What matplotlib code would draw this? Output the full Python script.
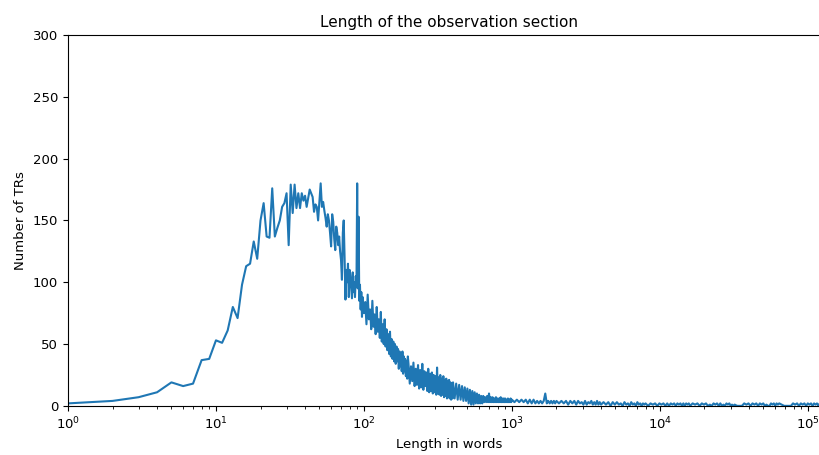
"""
Length of the observation section - number of TRs per length in words
"""
import matplotlib
matplotlib.use('Agg')
import matplotlib.pyplot as plt

# lengths 1..100, one value per length
head_len = list(range(1, 101))
head_count = [2, 4, 7, 11, 19, 16, 18, 37, 38, 53,
              51, 61, 80, 71, 98, 113, 115, 133, 119, 150,
              164, 137, 136, 176, 137, 144, 150, 161, 164, 172,
              130, 179, 156, 179, 160, 172, 160, 172, 166, 170,
              161, 168, 175, 172, 169, 157, 163, 161, 150, 165,
              180, 161, 165, 158, 152, 145, 155, 150, 140, 129,
              155, 149, 135, 126, 145, 140, 130, 137, 125, 118,
              102, 140, 150, 120, 86, 110, 100, 115, 88, 110,
              104, 95, 87, 108, 92, 100, 88, 105, 96, 180,
              95, 153, 85, 98, 78, 92, 72, 88, 80, 75]

# 100..1000
mid_len = list(range(102, 200, 2)) + list(range(200, 400, 4)) + list(range(400, 1000, 10))
mid_count = [84, 66, 90, 70, 78, 62, 85, 64, 74, 58,
             80, 60, 70, 55, 76, 52, 66, 50, 70, 48,
             62, 45, 58, 42, 60, 40, 54, 38, 52, 36,
             50, 34, 48, 36, 46, 30, 44, 32, 42, 28,
             44, 26, 40, 28, 38, 24, 36, 22, 40,
             # 200 - 396
             34, 18, 32, 20, 35, 16, 30, 17, 33, 14,
             29, 15, 34, 13, 28, 16, 27, 12, 30, 11,
             26, 12, 27, 10, 25, 11, 24, 9, 31, 10,
             23, 9, 25, 8, 22, 9, 24, 7, 21, 8,
             22, 6, 20, 7, 21, 6, 19, 5, 18, 6,
             # 400 - 990
             19, 6, 18, 5, 17, 5, 16, 4, 15, 4,
             14, 2, 13, 1, 12, 1, 11, 2, 10, 2,
             9, 2, 8, 2, 8, 3, 7, 3, 8, 3,
             10, 3, 7, 3, 7, 3, 6, 3, 7, 3,
             6, 3, 6, 3, 7, 3, 6, 3, 6, 3,
             6, 3, 5, 3, 6, 3, 5, 3, 6, 3]

# 1000..~125000, long flat tail
tail_len = (list(range(1000, 2000, 40)) + list(range(2000, 4000, 80))
            + list(range(4000, 8000, 160)) + list(range(8000, 16000, 320))
            + list(range(16000, 32000, 640)) + list(range(32000, 64000, 1280))
            + list(range(64000, 128000, 2560)))
tail_count = [5, 3, 5, 3, 5, 3, 5, 2, 5, 2, 5, 2, 4, 2, 4, 2, 4, 10, 2, 4, 2, 4, 2, 4, 2,
              4, 2, 4, 2, 4, 1, 4, 2, 4, 1, 4, 2, 3, 1, 4, 1, 3, 2, 4, 1, 3, 1, 4, 1, 3,
              1, 3, 1, 3, 0, 3, 1, 3, 1, 2, 0, 3, 1, 2, 0, 3, 1, 2, 0, 3, 1, 2, 0, 2, 1,
              2, 0, 2, 1, 2, 0, 2, 1, 2, 0, 2, 0, 2, 1, 2, 0, 2, 1, 2, 0, 2, 0, 2, 1, 2,
              0, 2, 1, 2, 0, 2, 1, 2, 0, 1, 0, 2, 1, 2, 0, 2, 0, 1, 0, 2, 1, 2, 0, 1, 0,
              1, 0, 0, 0, 2, 1, 2, 0, 2, 1, 2, 0, 2, 1, 2, 0, 1, 0, 0, 2, 1, 2, 0, 2, 1,
              2, 1, 0, 0, 0, 0, 2, 1, 2, 0, 2, 1, 2, 0, 2, 1, 2, 0, 2, 1, 2, 0, 2, 1, 2]

lengths = head_len + mid_len + tail_len
counts = head_count + mid_count + tail_count

fig = plt.figure(figsize=(8.19, 4.55), dpi=100)
ax = fig.add_axes([0.083, 0.108, 0.9304, 0.815])
ax.plot(lengths, counts, color='#1f77b4', linewidth=1.5)
ax.set_xscale('log')
ax.set_xlim(1, 1.41e5)
ax.set_ylim(0, 300)
ax.set_title('Length of the observation section', fontsize=11)
ax.set_xlabel('Length in words', fontsize=9.5)
ax.set_ylabel('Number of TRs', fontsize=9.5)
ax.tick_params(labelsize=9.5)
ax.spines['right'].set_visible(False)

plt.savefig('out.png', dpi=100)
